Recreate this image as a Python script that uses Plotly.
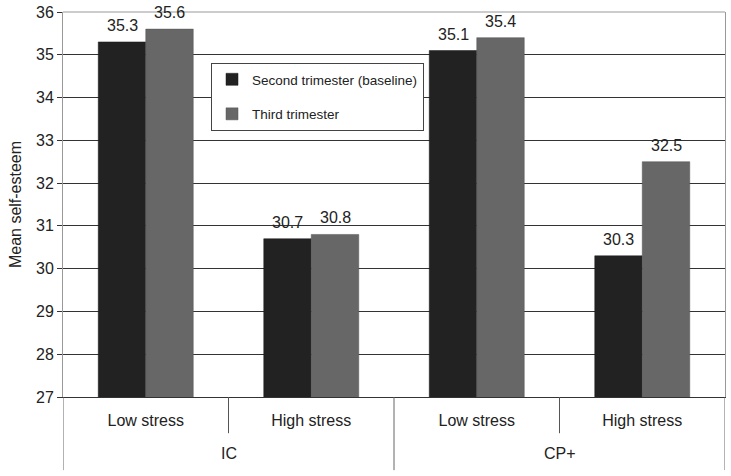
import plotly.graph_objects as go

groups = ["IC", "CP+"]
stress_levels = ["Low stress", "High stress", "Low stress", "High stress"]
series_names = ["Second trimester (baseline)", "Third trimester"]
second_trimester = [35.3, 30.7, 35.1, 30.3]
third_trimester = [35.6, 30.8, 35.4, 32.5]
y_ticks = [27, 28, 29, 30, 31, 32, 33, 34, 35, 36]

x_pos = list(range(len(stress_levels)))
FONT = "Liberation Sans, Arial, sans-serif"
BAR_W = 0.287

fig = go.Figure()
fig.add_trace(go.Bar(
    x=x_pos, y=second_trimester, name=series_names[0], legendgroup="a",
    width=BAR_W, offset=-BAR_W,
    marker=dict(color="#222222", line=dict(color="#1a1a1a", width=0.5)),
))
fig.add_trace(go.Bar(
    x=x_pos, y=third_trimester, name=series_names[1], legendgroup="b",
    width=BAR_W, offset=0,
    marker=dict(color="#676767", line=dict(color="#555555", width=0.5)),
))

annotations = []
for xi, v in zip(x_pos, second_trimester):
    annotations.append(dict(x=xi - BAR_W / 2, y=v, xref="x", yref="y",
                            text=f"{v:.1f}", showarrow=False, yanchor="bottom",
                            yshift=6, font=dict(size=16, color="#222", family=FONT)))
for xi, v in zip(x_pos, third_trimester):
    annotations.append(dict(x=xi + BAR_W / 2, y=v, xref="x", yref="y",
                            text=f"{v:.1f}", showarrow=False, yanchor="bottom",
                            yshift=6, font=dict(size=16, color="#222", family=FONT)))
for gi, g in enumerate(groups):
    annotations.append(dict(x=gi * 2 + 0.5, y=-0.148, xref="x", yref="paper",
                            text=g, showarrow=False, yanchor="middle",
                            font=dict(size=16, color="#222", family=FONT)))

shapes = []
for xv in [0.5, 2.5]:
    shapes.append(dict(type="line", xref="x", yref="paper", x0=xv, x1=xv,
                       y0=0, y1=-0.094, line=dict(color="#555", width=1)))
for xv in [-0.5, 1.5, 3.5]:
    shapes.append(dict(type="line", xref="x", yref="paper", x0=xv, x1=xv,
                       y0=0, y1=-0.19, line=dict(color="#666", width=1)))
shapes.append(dict(type="line", xref="paper", yref="paper", x0=0, x1=1,
                   y0=1, y1=1, line=dict(color="#999", width=1)))

fig.update_layout(
    width=731, height=476,
    margin=dict(l=63, r=6, t=12, b=79, autoexpand=False),
    paper_bgcolor="white", plot_bgcolor="white",
    font=dict(family=FONT, size=16, color="#222"),
    barmode="overlay",
    showlegend=True,
    legend=dict(x=0.2236, y=0.8675, xanchor="left", yanchor="top",
                bgcolor="white", bordercolor="#444", borderwidth=1,
                font=dict(size=13.5, color="#222", family=FONT),
                tracegroupgap=14, traceorder="grouped"),
    shapes=shapes, annotations=annotations,
)
fig.update_xaxes(
    range=[-0.5, 3.5], tickmode="array", tickvals=x_pos, ticktext=stress_levels,
    showgrid=False, showline=True, linecolor="#333", linewidth=1,
    ticks="outside", ticklen=9, tickcolor="rgba(0,0,0,0)",
    tickfont=dict(size=16, color="#222"), zeroline=False, automargin=False,
)
fig.update_yaxes(
    range=[27, 36], tickmode="array", tickvals=y_ticks,
    showgrid=True, gridcolor="#333", gridwidth=1,
    showline=True, linecolor="#999", linewidth=1, mirror=True,
    ticks="outside", ticklen=5, tickcolor="#333",
    tickfont=dict(size=16, color="#222"), zeroline=False, automargin=False,
    title=dict(text="Mean self-esteem", font=dict(size=16, color="#222"), standoff=10),
)

fig.write_html("out.html", config={"displayModeBar": False},
               post_script="document.body.style.margin='0';")
